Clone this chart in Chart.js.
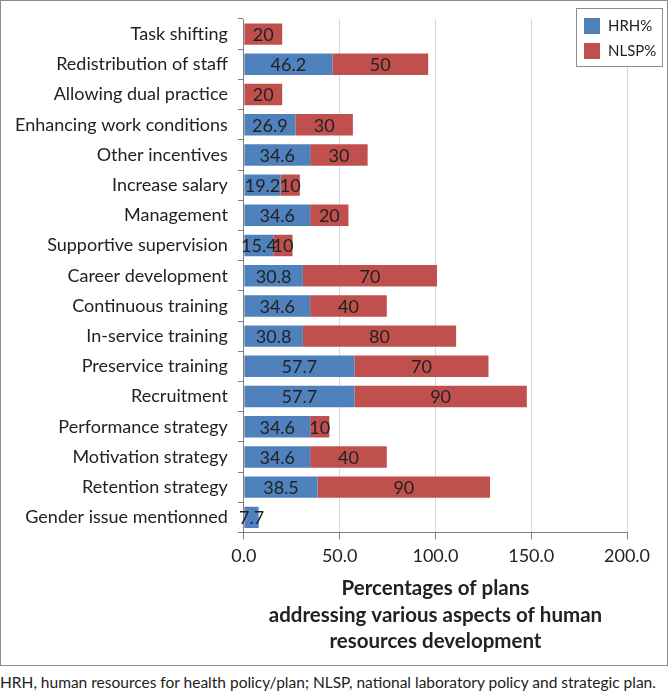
<!DOCTYPE html>
<html>
<head>
<meta charset="utf-8">
<script src="https://cdn.jsdelivr.net/npm/chart.js@4.4.0/dist/chart.umd.min.js"></script>
<style>
  body { margin: 0; background: #fff; font-family: Lato, sans-serif; }
  #quadro { position: absolute; left: 0; top: 0; width: 666px; height: 664px; border: 1px solid #8c8c8c; }
  #nota { position: absolute; left: 0; top: 673px; font-size: 15.5px; color: #222; white-space: nowrap; }
</style>
</head>
<body>
<div id="quadro"><canvas id="graficoBarras" width="666" height="664"></canvas></div>
<div id="nota">HRH, human resources for health policy/plan; NLSP, national laboratory policy and strategic plan.</div>
<script>
const categorias = [
  'Task shifting', 'Redistribution of staff', 'Allowing dual practice',
  'Enhancing work conditions', 'Other incentives', 'Increase salary',
  'Management', 'Supportive supervision', 'Career development',
  'Continuous training', 'In-service training', 'Preservice training',
  'Recruitment', 'Performance strategy', 'Motivation strategy',
  'Retention strategy', 'Gender issue mentionned'
];
const hrh  = [null, 46.2, null, 26.9, 34.6, 19.2, 34.6, 15.4, 30.8, 34.6, 30.8, 57.7, 57.7, 34.6, 34.6, 38.5, 7.7];
const nlsp = [20, 50, 20, 30, 30, 10, 20, 10, 70, 40, 80, 70, 90, 10, 40, 90, null];
const ticksX = [0, 50, 100, 150, 200];
const tituloX = ['Percentages of plans', 'addressing various aspects of human', 'resources development'];

// rótulos no meio de cada segmento
const rotulosPlugin = {
  id: 'rotulos',
  afterDatasetsDraw(chart) {
    const ctx = chart.ctx;
    ctx.save();
    ctx.font = '18px Lato';
    ctx.fillStyle = '#222';
    ctx.textAlign = 'center';
    ctx.textBaseline = 'middle';
    chart.data.datasets.forEach((ds, i) => {
      chart.getDatasetMeta(i).data.forEach((bar, j) => {
        const v = ds.data[j];
        if (v == null) return;
        const p = bar.getProps(['x', 'base', 'y'], true);
        ctx.fillText(String(v), (p.x + p.base) / 2, p.y + 1);
      });
    });
    ctx.restore();
  }
};

// legenda com moldura no canto
const legendaPlugin = {
  id: 'legendaCaixa',
  afterDraw(chart) {
    const ctx = chart.ctx;
    const x0 = chart.width - 91, y0 = 7, w = 86, h = 58;
    ctx.save();
    ctx.fillStyle = '#fff';
    ctx.fillRect(x0, y0, w, h);
    ctx.strokeStyle = '#8c8c8c';
    ctx.lineWidth = 1;
    ctx.strokeRect(x0 + 0.5, y0 + 0.5, w, h);
    ctx.font = '15px Lato';
    ctx.textBaseline = 'middle';
    chart.data.datasets.forEach((ds, i) => {
      const yy = y0 + 18 + i * 25;
      ctx.fillStyle = ds.backgroundColor;
      ctx.fillRect(x0 + 8, yy - 8, 16, 16);
      ctx.fillStyle = '#222';
      ctx.fillText(ds.label, x0 + 32, yy);
    });
    ctx.restore();
  }
};

const ctxBar = document.getElementById('graficoBarras').getContext('2d');
new Chart(ctxBar, {
  type: 'bar',
  data: {
    labels: categorias,
    datasets: [
      { label: 'HRH%', backgroundColor: '#4f81bd', data: hrh },
      { label: 'NLSP%', backgroundColor: '#c0504d', data: nlsp }
    ]
  },
  options: {
    indexAxis: 'y',
    responsive: false,
    animation: false,
    layout: { padding: { top: 18, right: 40, left: 4, bottom: 0 } },
    datasets: { bar: { barPercentage: 0.71, categoryPercentage: 1 } },
    plugins: { legend: { display: false }, tooltip: { enabled: false } },
    scales: {
      x: {
        stacked: true,
        min: 0,
        max: 200,
        afterBuildTicks: (s) => { s.ticks = ticksX.map(v => ({ value: v })); },
        ticks: { callback: (v) => Number(v).toFixed(1), color: '#222', font: { family: 'Lato', size: 18 }, padding: 6, maxRotation: 0 },
        grid: { color: '#d9d9d9', tickColor: '#7f7f7f', tickLength: 7 },
        border: { color: '#7f7f7f' },
        title: { display: true, text: tituloX, color: '#222', font: { family: 'Lato', size: 20.5, weight: 'bold', lineHeight: 1.3 }, padding: { top: 2, bottom: 10 } }
      },
      y: {
        stacked: true,
        afterFit: (s) => { s.paddingTop = 0; s.paddingBottom = 0; },
        ticks: { color: '#222', font: { family: 'Lato', size: 18 }, padding: 10 },
        grid: { drawOnChartArea: false, tickColor: '#7f7f7f', tickLength: 6 },
        border: { color: '#7f7f7f' }
      }
    }
  },
  plugins: [rotulosPlugin, legendaPlugin]
});
</script>
</body>
</html>
